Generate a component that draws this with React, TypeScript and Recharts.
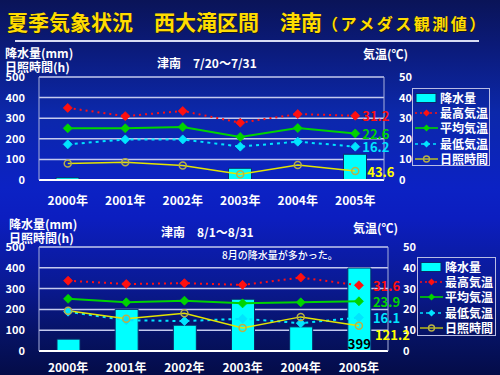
import React from 'react';
import { ComposedChart, Bar, Line, XAxis, YAxis, CartesianGrid, Legend, LabelList } from 'recharts';

// ---------- data ----------
const years = ['2000年', '2001年', '2002年', '2003年', '2004年', '2005年'];

// 7/20〜7/31
const julPrecip = [11, 2, 0, 57, 2, 125];
const julMax = [35.0, 31.0, 33.5, 27.8, 32.0, 31.2];
const julAvg = [25.1, 25.1, 25.7, 20.9, 25.2, 22.6];
const julMin = [17.3, 19.7, 19.7, 16.2, 18.6, 16.2];
const julSun = [80, 86, 70, 28, 73, 43.6];

// 8/1〜8/31
const augPrecip = [57, 200, 124, 249, 116, 399];
const augMax = [33.8, 32.2, 32.6, 31.8, 35.3, 31.6];
const augAvg = [25.1, 23.4, 24.2, 22.9, 23.4, 23.9];
const augMin = [18.9, 14.8, 14.4, 15.5, 13.4, 16.1];
const augSun = [193, 155, 181, 111, 164, 121.2];

const leftTicks = [0, 100, 200, 300, 400, 500];
const rightTicks = [0, 10, 20, 30, 40, 50];
const boundaryTicks = [1, 2, 3, 4, 5];

const seriesOrder = ['precip', 'max', 'avg', 'min', 'sun'];
const seriesNames = { precip: '降水量', max: '最高気温', avg: '平均気温', min: '最低気温', sun: '日照時間' };

// ---------- styles ----------
const FONT = '"Noto Sans CJK JP", "Noto Sans", sans-serif';
const C = {
  bar: '#00ffff',
  max: '#ff1010',
  avg: '#00d400',
  min: '#00e4ff',
  sun: '#e4e400',
  sunDot: '#b8b048',
  grid: '#c4caee',
  frame: '#a8b0dc',
};

type Row = { year: string; precip: number; max: number; avg: number; min: number; sun: number };

function buildRows(p: number[], mx: number[], av: number[], mn: number[], su: number[]): Row[] {
  return years.map((y, i) => ({ year: y, precip: p[i], max: mx[i], avg: av[i], min: mn[i], sun: su[i] }));
}

const julRows = buildRows(julPrecip, julMax, julAvg, julMin, julSun);
const augRows = buildRows(augPrecip, augMax, augAvg, augMin, augSun);

const diamondDot = (color: string) => (props: any) => {
  const { cx, cy, index } = props;
  if (cx == null || cy == null) return <g key={`d-${index}`} />;
  const s = 4.5;
  return (
    <path
      key={`d-${index}`}
      d={`M${cx},${cy - s}L${cx + s},${cy}L${cx},${cy + s}L${cx - s},${cy}Z`}
      fill={color}
      stroke={color}
      strokeWidth={0.8}
    />
  );
};

const pick = (props: any) => {
  const vb = props.viewBox || {};
  return {
    x: props.x ?? vb.x,
    y: props.y ?? vb.y,
    width: props.width ?? vb.width ?? 0,
    height: props.height ?? vb.height ?? 0,
  };
};

const endLabel = (color: string, dx: number, dy: number) => (props: any) => {
  const { index, value } = props;
  if (index !== years.length - 1) return null;
  const { x, y } = pick(props);
  return (
    <text
      x={x + dx}
      y={y + dy}
      fill={color}
      fontSize={13}
      fontWeight={700}
      fontFamily={FONT}
      dominantBaseline="central"
    >
      {value}
    </text>
  );
};

const barLabel = (mode: 'top' | 'bottom') => (props: any) => {
  const { index, value } = props;
  if (index !== years.length - 1) return null;
  const { x, y, width, height } = pick(props);
  const ty = mode === 'top' ? y + 9 : y + height - 8;
  return (
    <text
      x={x + width / 2}
      y={ty}
      fill="#000"
      fontSize={13}
      fontWeight={700}
      fontFamily={FONT}
      textAnchor="middle"
      dominantBaseline="central"
    >
      {value}
    </text>
  );
};

const LegendIcon = ({ k }: { k: string }) => {
  if (k === 'precip') {
    return (
      <svg width={24} height={12} style={{ flex: 'none' }}>
        <rect x={1} y={1.5} width={20} height={9} fill={C.bar} stroke="#0a2a6a" strokeWidth={1} />
      </svg>
    );
  }
  const color = (C as any)[k];
  const dash = k === 'max' ? '2 3' : k === 'min' ? '3 3' : undefined;
  return (
    <svg width={24} height={12} style={{ flex: 'none' }}>
      <line x1={0} y1={6} x2={23} y2={6} stroke={color} strokeWidth={k === 'sun' ? 1.2 : 1.6} strokeDasharray={dash} />
      {k === 'sun' ? (
        <circle cx={11.5} cy={6} r={3} fill="none" stroke={C.sunDot} strokeWidth={1.4} />
      ) : (
        <path d="M11.5,2.5L15,6L11.5,9.5L8,6Z" fill={color} />
      )}
    </svg>
  );
};

const makeLegend = (size: number) => (props: any) => {
  const payload = ((props.payload || []) as any[])
    .slice()
    .sort((a, b) => seriesOrder.indexOf(a.dataKey) - seriesOrder.indexOf(b.dataKey));
  return (
    <div
      style={{
        width: size,
        height: size,
        border: '1px solid #b8bce4',
        boxSizing: 'border-box',
        padding: '1px 0 0 2px',
        fontFamily: FONT,
        fontWeight: 700,
        fontSize: 12,
        color: '#ffffff',
        overflow: 'hidden',
      }}
    >
      {payload.map((it: any) => (
        <div
          key={it.dataKey}
          style={{ display: 'flex', alignItems: 'center', height: 15.3, whiteSpace: 'nowrap', lineHeight: '14px' }}
        >
          <LegendIcon k={it.dataKey} />
          <span style={{ marginLeft: 1 }}>{it.value}</span>
        </div>
      ))}
    </div>
  );
};

type PanelProps = {
  rows: Row[];
  top: number;
  height: number;
  marginRight: number;
  marginBottom: number;
  tickMargin: number;
  legendLeft: number;
  legendTop: number;
  legendSize: number;
  tempDx: number;
  sunDx: number;
  sunDy: number;
  barMode: 'top' | 'bottom';
};

const tickStyle = { fill: '#ffffff', fontSize: 11, fontWeight: 700, fontFamily: FONT };

function Panel(p: PanelProps) {
  return (
    <div style={{ position: 'absolute', left: 0, top: p.top, width: 500, height: p.height }}>
      <ComposedChart
        width={500}
        height={p.height}
        data={p.rows}
        margin={{ top: 32, right: p.marginRight, bottom: p.marginBottom, left: 0 }}
      >
        <CartesianGrid xAxisId="cat" yAxisId="left" vertical={false} stroke={C.grid} strokeWidth={1.5} />
        <XAxis
          xAxisId="cat"
          dataKey="year"
          height={20}
          interval={0}
          tickLine={false}
          axisLine={{ stroke: '#ffffff', strokeWidth: 2 }}
          tick={{ fill: '#ffffff', fontSize: 12, fontWeight: 700, fontFamily: FONT }}
          tickMargin={p.tickMargin}
        />
        <XAxis
          xAxisId="bnd"
          type="number"
          domain={[0, 6]}
          ticks={boundaryTicks}
          mirror
          height={10}
          axisLine={false}
          tick={false}
          tickSize={4}
          tickLine={{ stroke: '#c8cce8', strokeWidth: 1 }}
        />
        <YAxis
          yAxisId="left"
          domain={[0, 500]}
          ticks={leftTicks}
          width={39}
          tickLine={false}
          axisLine={{ stroke: C.frame, strokeWidth: 1 }}
          tick={tickStyle}
          tickMargin={8}
          interval={0}
        />
        <YAxis
          yAxisId="right"
          orientation="right"
          domain={[0, 50]}
          ticks={rightTicks}
          width={30}
          tickLine={false}
          axisLine={{ stroke: C.frame, strokeWidth: 1 }}
          tick={{ ...tickStyle, textAnchor: 'start' } as any}
          tickMargin={9}
          interval={0}
        />
        <Legend
          layout="vertical"
          align="center"
          verticalAlign="middle"
          content={makeLegend(p.legendSize)}
          wrapperStyle={{ left: p.legendLeft, top: p.legendTop, width: p.legendSize, height: p.legendSize }}
        />
        <Bar
          xAxisId="cat"
          yAxisId="left"
          dataKey="precip"
          name={seriesNames.precip}
          barSize={23}
          fill={C.bar}
          stroke="#0a2a6a"
          strokeWidth={1}
          isAnimationActive={false}
        >
          <LabelList dataKey="precip" content={barLabel(p.barMode)} />
        </Bar>
        <Line
          xAxisId="cat"
          yAxisId="right"
          dataKey="max"
          name={seriesNames.max}
          stroke={C.max}
          strokeWidth={2}
          strokeDasharray="2 4"
          dot={diamondDot(C.max)}
          activeDot={false}
          isAnimationActive={false}
        >
          <LabelList dataKey="max" content={endLabel(C.max, p.tempDx, 0)} />
        </Line>
        <Line
          xAxisId="cat"
          yAxisId="right"
          dataKey="avg"
          name={seriesNames.avg}
          stroke={C.avg}
          strokeWidth={2}
          dot={diamondDot(C.avg)}
          activeDot={false}
          isAnimationActive={false}
        >
          <LabelList dataKey="avg" content={endLabel(C.avg, p.tempDx, 0)} />
        </Line>
        <Line
          xAxisId="cat"
          yAxisId="right"
          dataKey="min"
          name={seriesNames.min}
          stroke={C.min}
          strokeWidth={2}
          strokeDasharray="3 4"
          dot={diamondDot(C.min)}
          activeDot={false}
          isAnimationActive={false}
        >
          <LabelList dataKey="min" content={endLabel(C.min, p.tempDx, 0)} />
        </Line>
        <Line
          xAxisId="cat"
          yAxisId="left"
          dataKey="sun"
          name={seriesNames.sun}
          stroke={C.sun}
          strokeWidth={1.5}
          dot={{ r: 3.5, fill: 'none', stroke: C.sunDot, strokeWidth: 1.5 }}
          activeDot={false}
          isAnimationActive={false}
        >
          <LabelList dataKey="sun" content={endLabel('#ffff00', p.sunDx, p.sunDy)} />
        </Line>
      </ComposedChart>
    </div>
  );
}

const txt = (left: number, top: number, size: number, content: string, extra: React.CSSProperties = {}) => (
  <div
    style={{
      position: 'absolute',
      left,
      top,
      fontFamily: FONT,
      fontWeight: 700,
      fontSize: size,
      lineHeight: `${size}px`,
      color: '#ffffff',
      whiteSpace: 'pre',
      ...extra,
    }}
  >
    {content}
  </div>
);

export default function App() {
  return (
    <div
      style={{
        position: 'absolute',
        left: 0,
        top: 0,
        width: 500,
        height: 375,
        overflow: 'hidden',
        background:
          'linear-gradient(to bottom, #0a1458 0%, #0b1a78 12%, #0c28aa 30%, #0c22c4 50%, #0c1ec0 58%, #0a1a96 75%, #061262 90%, #040c48 100%)',
      }}
    >
      <div
        style={{
          position: 'absolute',
          left: 7,
          top: 8,
          height: 27,
          lineHeight: '27px',
          fontFamily: FONT,
          fontWeight: 700,
          color: '#ffdc00',
          textShadow: '1px 1px 0 #1a1a1a',
          whiteSpace: 'nowrap',
        }}
      >
        <span style={{ fontSize: 21 }}>夏季気象状況　西大滝区間　津南</span>
        <span style={{ fontSize: 16, letterSpacing: 2.5 }}>（アメダス観測値）</span>
      </div>
      <div style={{ position: 'absolute', left: 15, top: 40, width: 464, height: 2, background: '#d8dcf4' }} />

      {txt(5, 47, 12, '降水量(mm)')}
      {txt(5, 61, 12, '日照時間(h)')}
      {txt(157, 57, 12, '津南　7/20〜7/31')}
      {txt(363, 48, 12, '気温(℃)')}

      <Panel
        rows={julRows}
        top={45}
        height={172}
        marginRight={86}
        marginBottom={17}
        tickMargin={10}
        legendLeft={412}
        legendTop={43}
        legendSize={78}
        tempDx={7}
        sunDx={12}
        sunDy={0}
        barMode="top"
      />

      {txt(9, 218, 12, '降水量(mm)')}
      {txt(9, 232, 12, '日照時間(h)')}
      {txt(161, 226, 12, '津南　8/1〜8/31')}
      {txt(353, 222, 12, '気温(℃)')}

      <Panel
        rows={augRows}
        top={215}
        height={160}
        marginRight={82}
        marginBottom={4}
        tickMargin={6}
        legendLeft={417}
        legendTop={42}
        legendSize={79}
        tempDx={14}
        sunDx={16}
        sunDy={9}
        barMode="bottom"
      />

      {txt(222, 250, 10, '8月の降水量が多かった。', { fontWeight: 500 })}
    </div>
  );
}
